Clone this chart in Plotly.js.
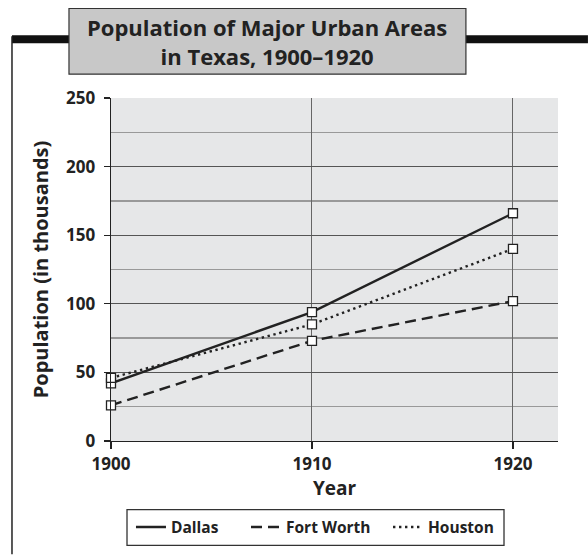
<!DOCTYPE html>
<html>
<head>
<meta charset="utf-8">
<script src="https://cdn.plot.ly/plotly-3.0.1.min.js"></script>
<style>html,body{margin:0;padding:0;background:#fff;}#chart{width:588px;height:556px;}</style>
</head>
<body>
<div id="chart"></div>
<script>
const years = [1900, 1910, 1920];
const dallas = [42, 94, 166];
const fortWorth = [26, 73, 102];
const houston = [46, 85, 140];
const seriesNames = ["Dallas", "Fort Worth", "Houston"];
const titleText = "Population of Major Urban Areas<br>in Texas, 1900–1920";
const yTitle = "Population (in thousands)";
const xTitle = "Year";

const FONT = "'Open Sans', 'DejaVu Sans', sans-serif";
const marker = {symbol: "square", size: 9, color: "#fff", line: {color: "#222", width: 1.3}};

function lineTrace(name, y, dash, legendId) {
  return {
    x: years, y: y, name: name, type: "scatter", mode: "lines",
    line: {color: "#222", width: 2.4, dash: dash}, showlegend: true, legend: legendId
  };
}
function markerTrace(name, y) {
  return {
    x: years, y: y, name: name, type: "scatter", mode: "markers",
    marker: marker, cliponaxis: false, showlegend: false
  };
}

const data = [
  lineTrace(seriesNames[0], dallas, "solid", "legend"),
  lineTrace(seriesNames[1], fortWorth, "11px,6px", "legend2"),
  lineTrace(seriesNames[2], houston, "2.4px,3.6px", "legend3"),
  markerTrace(seriesNames[0], dallas),
  markerTrace(seriesNames[1], fortWorth),
  markerTrace(seriesNames[2], houston)
];

function legendAt(x) {
  return {
    orientation: "h", x: x, y: -0.252, xanchor: "left", yanchor: "middle",
    borderwidth: 0, bgcolor: "rgba(0,0,0,0)",
    font: {family: FONT, size: 15.5, weight: "bold", color: "#222"}
  };
}

const layout = {
  width: 588, height: 556,
  margin: {l: 111, r: 30, t: 98, b: 113},
  paper_bgcolor: "#fff",
  plot_bgcolor: "#e6e7e8",
  font: {family: FONT, color: "#222", size: 15, weight: "bold"},
  showlegend: true,
  legend: legendAt(0.0447),
  legend2: legendAt(0.302),
  legend3: legendAt(0.6197),
  xaxis: {
    range: [1900, 1922.24], tickvals: years, ticktext: years.map(String),
    ticks: "outside", ticklen: 7, tickcolor: "#222", tickwidth: 1.2,
    showline: true, linecolor: "#222", linewidth: 1.4,
    showgrid: true, gridcolor: "#666", gridwidth: 1,
    zeroline: false,
    tickfont: {family: FONT, size: 17, weight: "bold", color: "#222"},
    title: {text: xTitle, font: {family: FONT, size: 19, weight: "bold", color: "#222"}, standoff: 4}
  },
  yaxis: {
    range: [0, 250], tick0: 0, dtick: 50,
    ticks: "outside", ticklen: 6, tickcolor: "#222", tickwidth: 1.2,
    ticklabelstandoff: 5,
    showline: true, linecolor: "#222", linewidth: 1.4,
    showgrid: true, gridcolor: "#555", gridwidth: 1,
    minor: {dtick: 25, showgrid: true, gridcolor: "#999", gridwidth: 1.5, ticks: ""},
    zeroline: false,
    tickfont: {family: FONT, size: 17, weight: "bold", color: "#222"},
    title: {text: yTitle, font: {family: FONT, size: 20, weight: "bold", color: "#222"}, standoff: 12}
  },
  shapes: [
    {type: "line", xref: "paper", yref: "paper", x0: -0.2215, x1: 1.067, y0: 1.171, y1: 1.171,
     line: {color: "#111", width: 8}, layer: "above"},
    {type: "line", xref: "paper", yref: "paper", x0: -0.2215, x1: -0.2215, y0: 1.18, y1: -0.33,
     line: {color: "#222", width: 1.5}, layer: "above"},
    {type: "rect", xref: "paper", yref: "paper", x0: -0.094, x1: 0.794, y0: 1.0696, y1: 1.261,
     fillcolor: "#c8c8c8", line: {color: "#333", width: 1.2}, layer: "above"},
    {type: "rect", xref: "paper", yref: "paper", x0: 0.0358, x1: 0.8792, y0: -0.2, y1: -0.3043,
     fillcolor: "rgba(0,0,0,0)", line: {color: "#333", width: 1.3}, layer: "above"}
  ],
  annotations: [
    {text: titleText, xref: "paper", yref: "paper", x: 0.35, y: 1.165, xanchor: "center", yanchor: "middle",
     showarrow: false, font: {family: FONT, size: 22, weight: "bold", color: "#222"}, align: "center"}
  ]
};

Plotly.newPlot("chart", data, layout, {displayModeBar: false, staticPlot: true});
</script>
</body>
</html>
